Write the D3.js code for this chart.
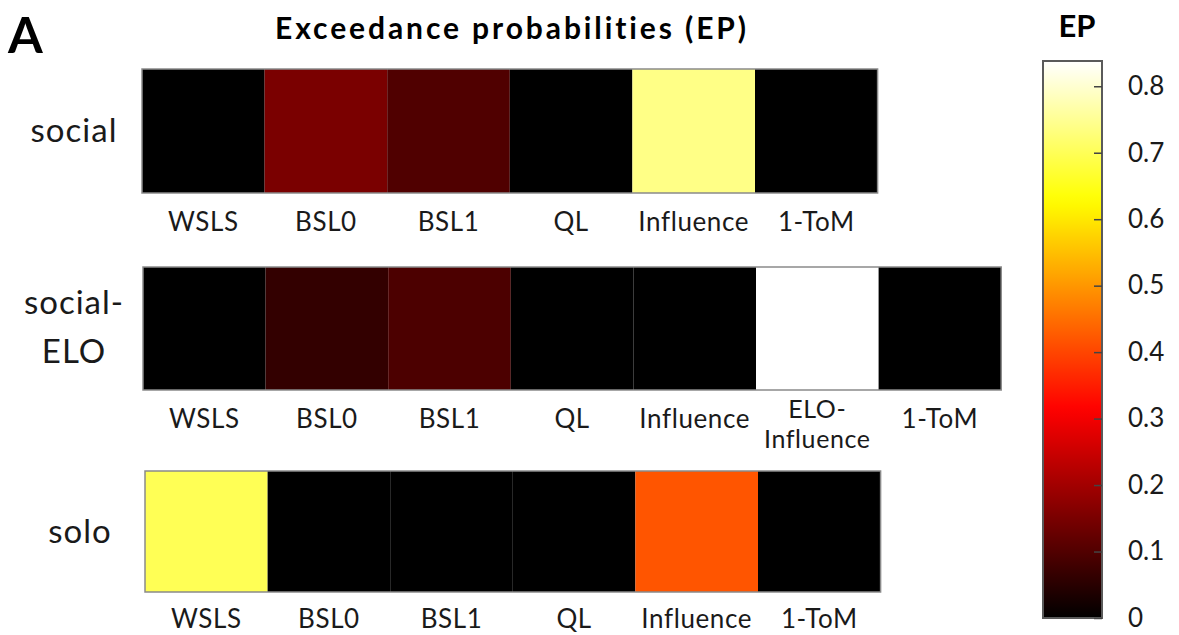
<!DOCTYPE html>
<html><head><meta charset="utf-8">
<script src="https://cdn.jsdelivr.net/npm/d3@7"></script>
<style>html,body{margin:0;padding:0;background:#fff;} svg{display:block;font-family:Lato, "Open Sans", sans-serif;}</style>
</head><body>
<svg id="chart" width="1179" height="635"></svg>
<script>
// ---- data ----
const rowNames = ["social", "social-ELO", "solo"];
const socialModels = ["WSLS", "BSL0", "BSL1", "QL", "Influence", "1-ToM"];
const socialEP = [0, 0.150, 0.099, 0, 0.739, 0];
const socialEloModels = ["WSLS", "BSL0", "BSL1", "QL", "Influence", "ELO-Influence", "1-ToM"];
const socialEloEP = [0, 0.063, 0.094, 0, 0, 0.838, 0];
const soloModels = ["WSLS", "BSL0", "BSL1", "QL", "Influence", "1-ToM"];
const soloEP = [0.698, 0, 0, 0, 0.419, 0];
const colorbarTicks = [0, 0.1, 0.2, 0.3, 0.4, 0.5, 0.6, 0.7, 0.8];
const epMax = 0.838;

// ---- hot colormap ----
function hot(t) {
  t = Math.max(0, Math.min(1, t));
  const r = Math.min(1, t / 0.375);
  const g = Math.max(0, Math.min(1, (t - 0.375) / 0.375));
  const b = Math.max(0, Math.min(1, (t - 0.75) / 0.25));
  return d3.rgb(r * 255, g * 255, b * 255).formatHex();
}
const color = d3.scaleSequential(hot).domain([0, epMax]);

const svg = d3.select("#chart");

// panel letter + title
svg.append("text").attr("x", 8).attr("y", 53).attr("font-size", 50).attr("font-weight", 700).text("A");
svg.append("text").attr("x", 512).attr("y", 39).attr("text-anchor", "middle")
  .attr("font-size", 30).attr("letter-spacing", 2.9).attr("font-weight", 700).text("Exceedance probabilities (EP)");

const rows = [
  {name: ["social"], models: socialModels, ep: socialEP, x0: 142, y0: 69, y1: 193, labelY: 231},
  {name: ["social-", "ELO"], models: socialEloModels, ep: socialEloEP, x0: 143, y0: 267, y1: 390, labelY: 428},
  {name: ["solo"], models: soloModels, ep: soloEP, x0: 145, y0: 471, y1: 592, labelY: 628}
];
const cellW = 122.6;

rows.forEach(r => {
  const x = d3.scaleBand().domain(r.models).range([r.x0, r.x0 + cellW * r.models.length]);
  const g = svg.append("g");
  g.selectAll("rect.cell").data(r.models).join("rect")
    .attr("class", "cell")
    .attr("x", d => x(d)).attr("y", r.y0)
    .attr("width", x.bandwidth()).attr("height", r.y1 - r.y0)
    .attr("fill", (d, i) => color(r.ep[i]));
  g.append("rect").attr("x", r.x0).attr("y", r.y0)
    .attr("width", cellW * r.models.length).attr("height", r.y1 - r.y0)
    .attr("fill", "none").attr("stroke", "#8a8a8a").attr("stroke-width", 1.5);
  // x labels
  r.models.forEach(m => {
    const cx = x(m) + x.bandwidth() / 2;
    if (m === "ELO-Influence") {
      g.append("text").attr("text-anchor", "middle").attr("font-size", 25).attr("letter-spacing", 0.6)
        .attr("fill", "#1a1a1a").attr("x", cx).attr("y", r.labelY - 10).text("ELO-");
      g.append("text").attr("text-anchor", "middle").attr("font-size", 25).attr("letter-spacing", 0.6)
        .attr("fill", "#1a1a1a").attr("x", cx).attr("y", r.labelY + 20).text("Influence");
    } else {
      g.append("text").attr("text-anchor", "middle").attr("font-size", 26).attr("letter-spacing", 0.6)
        .attr("fill", "#1a1a1a").attr("x", cx).attr("y", r.labelY).text(m);
    }
  });
  // row name
  const cy = (r.y0 + r.y1) / 2;
  const nt = g.append("text").attr("text-anchor", "middle").attr("font-size", 33)
    .attr("letter-spacing", 1).attr("fill", "#1a1a1a");
  if (r.name.length === 1) {
    nt.attr("x", r.name[0] === "solo" ? 80 : 74).attr("y", cy + 11).text(r.name[0]);
  } else {
    nt.append("tspan").attr("x", 74).attr("y", cy - 15).text(r.name[0]);
    nt.append("tspan").attr("x", 74).attr("y", cy + 34).text(r.name[1]);
  }
});

// ---- colorbar ----
const cbX = 1043, cbW = 59, cbTop = 61, cbBot = 618;
const yc = d3.scaleLinear().domain([0, epMax]).range([cbBot, cbTop]);
const defs = svg.append("defs");
const grad = defs.append("linearGradient").attr("id", "hotgrad")
  .attr("x1", 0).attr("y1", 1).attr("x2", 0).attr("y2", 0);
d3.range(0, 1.0001, 0.02).forEach(s => {
  grad.append("stop").attr("offset", s).attr("stop-color", hot(s));
});
svg.append("rect").attr("x", cbX).attr("y", cbTop).attr("width", cbW).attr("height", cbBot - cbTop)
  .attr("fill", "url(#hotgrad)").attr("stroke", "#5a5a5a").attr("stroke-width", 2);
const axis = d3.axisRight(yc).tickValues(colorbarTicks).tickSize(-8).tickPadding(26)
  .tickFormat(d => d === 0 ? "0" : d3.format(".1f")(d));
const ag = svg.append("g").attr("transform", `translate(${cbX + cbW},0)`).call(axis);
ag.select(".domain").remove();
ag.selectAll(".tick line").attr("stroke", "#444").attr("stroke-width", 1.5);
ag.selectAll(".tick text").attr("font-size", 26).attr("fill", "#1a1a1a").attr("font-family", "Lato, sans-serif");
svg.append("text").attr("x", 1077).attr("y", 37).attr("text-anchor", "middle")
  .attr("font-size", 31).attr("font-weight", 700).text("EP");
</script>
</body></html>
